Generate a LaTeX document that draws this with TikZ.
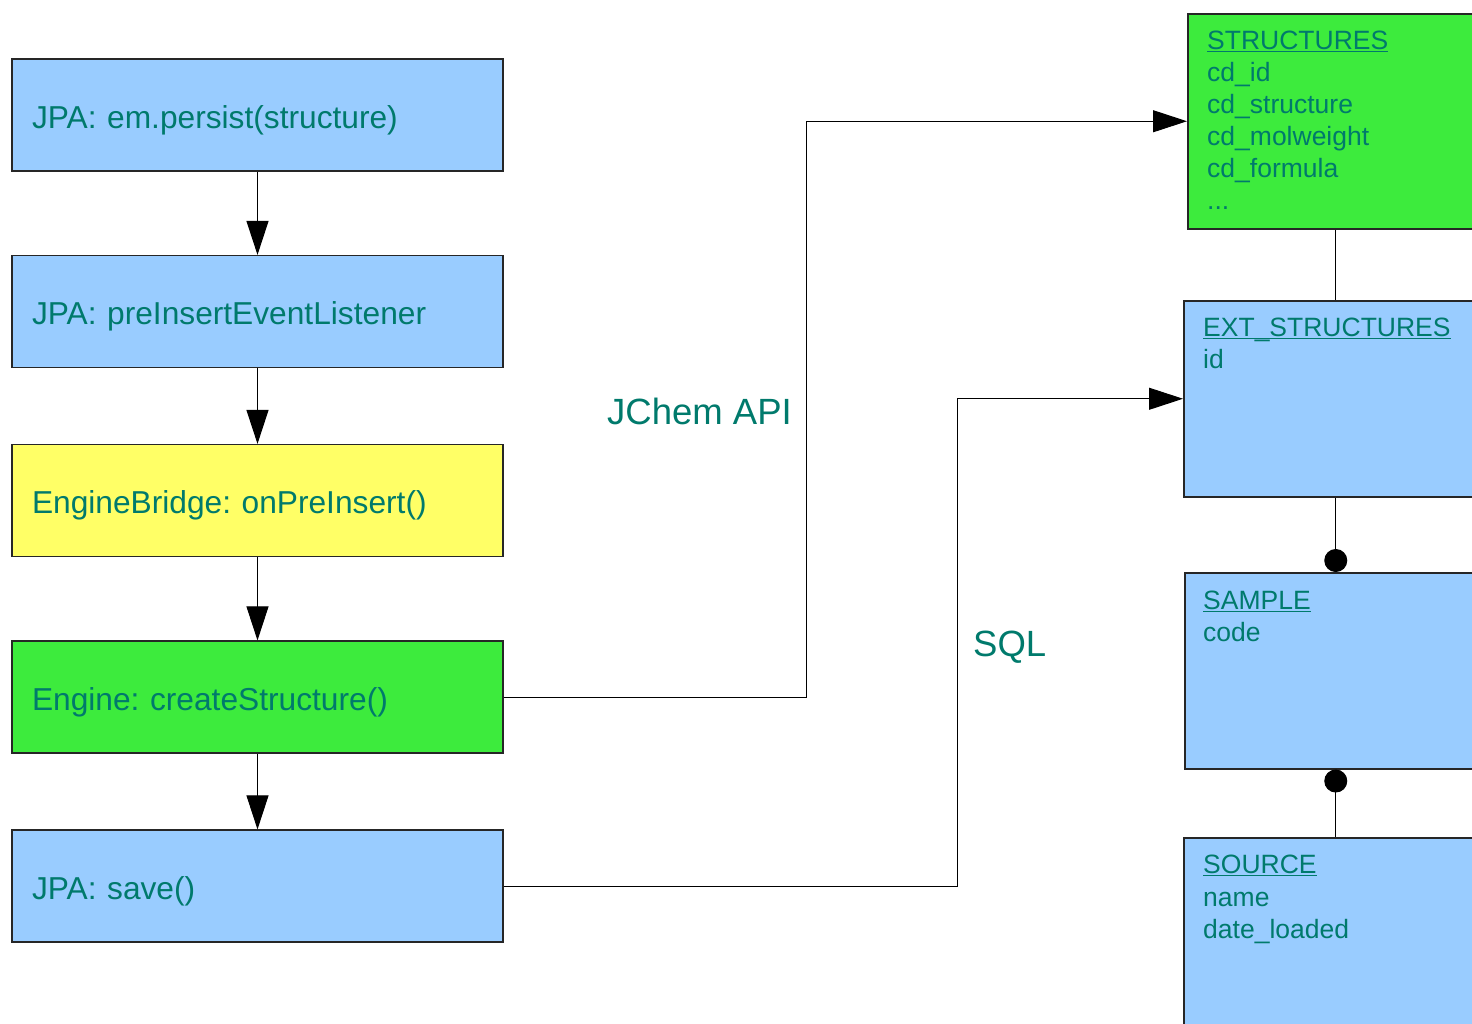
\documentclass[tikz,border=0pt]{standalone}
\usepackage{fontspec}
\setmainfont{Liberation Sans}
\usetikzlibrary{arrows.meta,calc}
\frenchspacing
\definecolor{txt}{RGB}{0,122,108}
\definecolor{fblue}{RGB}{153,204,255}
\definecolor{fyellow}{RGB}{255,255,102}
\definecolor{fgreen}{RGB}{61,235,61}
\newcommand\ulword[1]{\setbox0\hbox{#1}\rlap{\textcolor{txt}{\rule[-3pt]{\wd0}{1.4pt}}}\box0}
\tikzset{
  flowbox/.style={draw=black!85, line width=1.2pt, rectangle, minimum width=491pt, minimum height=112pt,
    text width=451pt, inner xsep=20pt, align=left, text=txt, text height=26pt, text depth=0pt,
    font=\fontsize{31.7}{38}\selectfont},
  tblbox/.style={draw=black!85, line width=1.5pt, rectangle, anchor=north west, inner sep=0pt},
  tbltext/.style={anchor=north west, inner sep=0pt, align=left, text=txt, font=\fontsize{26.5}{32}\selectfont},
  conn/.style={draw=black, line width=1pt},
  arr/.style={conn, -{Triangle[width=22pt,length=34pt]}},
  lbl/.style={anchor=west, inner sep=0pt, text=txt, font=\fontsize{36.5}{42}\selectfont}
}
\begin{document}
\begin{tikzpicture}[x=1pt,y=-1pt]
\useasboundingbox (0,0) rectangle (1472,1023);
\clip (0,0) rectangle (1472,1023);
\fill[white] (0,0) rectangle (1472,1023);
% left flow
\node[flowbox, fill=fblue]   (b1) at (257.5,115) {JPA: em.persist(structure)};
\node[flowbox, fill=fblue]   (b2) at (257.5,311.5) {JPA: preInsertEventListener};
\node[flowbox, fill=fyellow] (b3) at (257.5,500.5) {EngineBridge: onPreInsert()};
\node[flowbox, fill=fgreen]  (b4) at (257.5,697) {Engine: createStructure()};
\node[flowbox, fill=fblue]   (b5) at (257.5,886) {JPA: save()};
\draw[arr] (b1) -- (b2);
\draw[arr] (b2) -- (b3);
\draw[arr] (b3) -- (b4);
\draw[arr] (b4) -- (b5);
% tables
\node[tblbox, fill=fgreen, minimum width=296pt, minimum height=215pt] (st) at (1187,13) {};
\node[tbltext] (stt) at (1207,29) {\rule{0pt}{20pt}\ulword{STRUCTURES}\\cd\_id\\cd\_structure\\cd\_molweight\\cd\_formula\\...};
\node[tblbox, fill=fblue, minimum width=304pt, minimum height=196pt] (ex) at (1183,300) {};
\node[tbltext] (ext) at (1203,316) {\rule{0pt}{20pt}\ulword{EXT\_STRUCTURES}\\id};
\node[tblbox, fill=fblue, minimum width=302pt, minimum height=196pt] (sa) at (1184,572) {};
\node[tbltext] (sat) at (1203,589) {\rule{0pt}{20pt}\ulword{SAMPLE}\\code};
\node[tblbox, fill=fblue, minimum width=304pt, minimum height=220pt] (so) at (1183,837) {};
\node[tbltext, font=\fontsize{26.5}{32.8}\selectfont] (sot) at (1203,853) {\rule{0pt}{20pt}\ulword{SOURCE}\\name\\date\_loaded};
\draw[conn] (st.south) -- (ex.north);
\draw[conn, -{Circle[length=23pt]}] (ex.south) -- (sa.north);
\draw[conn, {Circle[length=23pt]}-] (sa.south) -- (so.north);
% elbow connectors
\coordinate (j1) at (806,0);
\coordinate (j2) at (957,0);
\draw[arr] (b4.east) -- (b4.east -| j1) |- (st.west);
\draw[arr] (b5.east) -- (b5.east -| j2) |- (ex.west);
\node[lbl] (l1) at (607,411) {JChem API};
\node[lbl] (l2) at (973,647) {SQL};
\end{tikzpicture}
\end{document}
